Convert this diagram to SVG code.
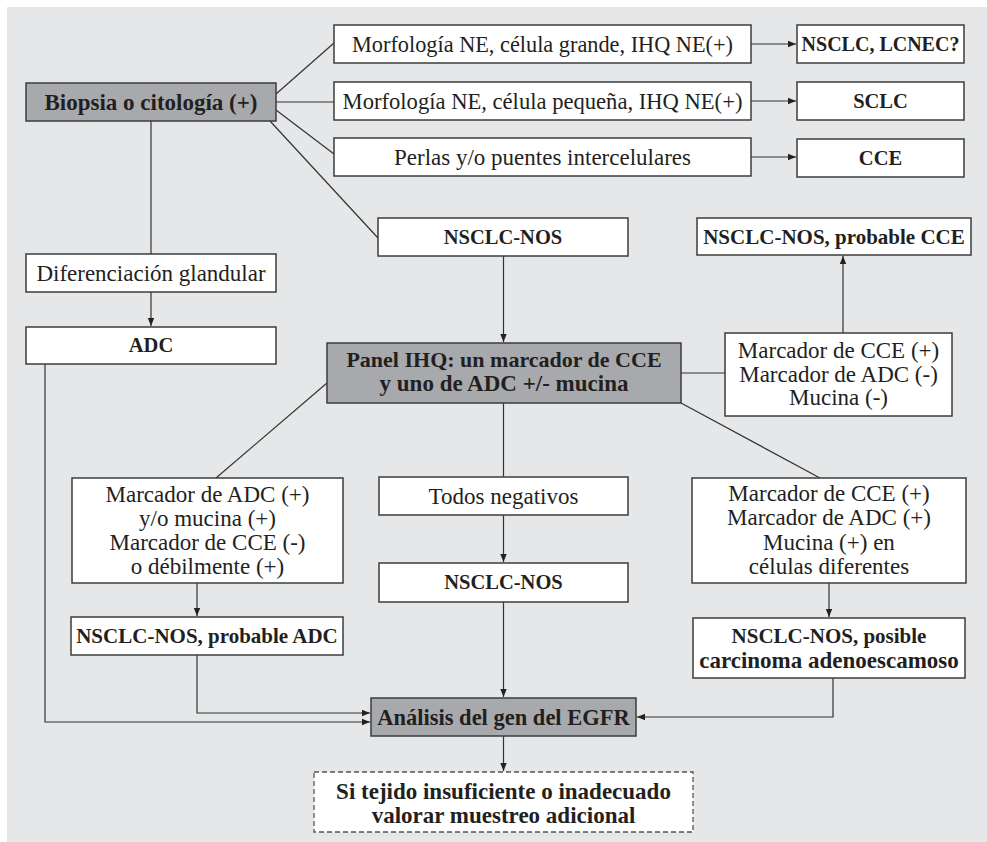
<svg xmlns="http://www.w3.org/2000/svg" width="987" height="842" viewBox="0 0 987 842">
<style>
.bg{fill:#e6e7e8}
.box{fill:#ffffff;stroke:#3c3c3c;stroke-width:1.5}
.dark{fill:#a7a9ac;stroke:#3c3c3c;stroke-width:1.5}
.dash{fill:#ffffff;stroke:#555;stroke-width:1.3;stroke-dasharray:5 3}
.t{font-family:"Liberation Serif","DejaVu Serif",serif;font-size:23px;fill:#231f20;text-anchor:middle}
.b{font-family:"Liberation Serif","DejaVu Serif",serif;font-size:23px;font-weight:bold;fill:#231f20;text-anchor:middle}
.k{font-size:20.5px}
.c{fill:none;stroke:#333;stroke-width:1.2}
</style>
<defs>
<marker id="ah" markerUnits="userSpaceOnUse" markerWidth="8" markerHeight="8" refX="8" refY="4" orient="auto">
<path d="M0,0.8 L8,4 L0,7.2 Z" fill="#222"/>
</marker>
</defs>
<rect class="bg" x="7" y="7" width="980" height="835"/>

<g id="connectors">
<line class="c" x1="751" y1="44" x2="796" y2="44" marker-end="url(#ah)"/>
<line class="c" x1="751" y1="101" x2="796" y2="101" marker-end="url(#ah)"/>
<line class="c" x1="751" y1="157" x2="796" y2="157" marker-end="url(#ah)"/>
<line class="c" x1="276" y1="94" x2="334" y2="43"/>
<line class="c" x1="276" y1="102" x2="334" y2="102"/>
<line class="c" x1="276" y1="110" x2="334" y2="154"/>
<line class="c" x1="270" y1="121" x2="378" y2="238"/>
<line class="c" x1="151" y1="121" x2="151" y2="254"/>
<line class="c" x1="151" y1="292" x2="151" y2="326" marker-end="url(#ah)"/>
<polyline class="c" points="45,364 45,722 370,722" marker-end="url(#ah)"/>
<line class="c" x1="503.5" y1="256" x2="503.5" y2="342" marker-end="url(#ah)"/>
<line class="c" x1="681" y1="373" x2="725" y2="373"/>
<line class="c" x1="843" y1="333" x2="843" y2="256" marker-end="url(#ah)"/>
<line class="c" x1="327" y1="383" x2="216" y2="478"/>
<line class="c" x1="197" y1="583" x2="197" y2="616" marker-end="url(#ah)"/>
<polyline class="c" points="197,655 197,713 370,713" marker-end="url(#ah)"/>
<line class="c" x1="503.5" y1="403" x2="503.5" y2="477"/>
<line class="c" x1="503.5" y1="515" x2="503.5" y2="562" marker-end="url(#ah)"/>
<line class="c" x1="503.5" y1="602" x2="503.5" y2="697" marker-end="url(#ah)"/>
<line class="c" x1="681" y1="403" x2="820" y2="478"/>
<line class="c" x1="829" y1="583" x2="829" y2="617" marker-end="url(#ah)"/>
<polyline class="c" points="833,678 833,717 637,717" marker-end="url(#ah)"/>
<line class="c" x1="503.5" y1="736" x2="503.5" y2="771" marker-end="url(#ah)"/>
</g>

<g id="n-biopsia"><rect class="dark" x="26" y="83" width="250" height="38"/><text class="b" x="151" y="110">Biopsia o citología (+)</text></g>
<g id="n-morf-grande"><rect class="box" x="334" y="25" width="417" height="38"/><text class="t" x="542.5" y="52" style="font-size:22.3px">Morfología NE, célula grande, IHQ NE(+)</text></g>
<g id="n-morf-peq"><rect class="box" x="334" y="82" width="417" height="38"/><text class="t" x="542.5" y="109" style="font-size:22.6px">Morfología NE, célula pequeña, IHQ NE(+)</text></g>
<g id="n-perlas"><rect class="box" x="334" y="138" width="417" height="38"/><text class="t" x="542.5" y="165">Perlas y/o puentes intercelulares</text></g>
<g id="n-lcnec"><rect class="box" x="797" y="25" width="167" height="38"/><text class="b" x="880.5" y="51" style="font-size:20px">NSCLC, LCNEC?</text></g>
<g id="n-sclc"><rect class="box" x="797" y="82" width="167" height="38"/><text class="b k" x="880.5" y="108">SCLC</text></g>
<g id="n-cce"><rect class="box" x="797" y="139" width="167" height="38"/><text class="b k" x="880.5" y="165">CCE</text></g>
<g id="n-difer"><rect class="box" x="26" y="254" width="250" height="38"/><text class="t" x="151" y="281">Diferenciación glandular</text></g>
<g id="n-adc"><rect class="box" x="26" y="327" width="250" height="37"/><text class="b k" x="151" y="352">ADC</text></g>
<g id="n-nos1"><rect class="box" x="378" y="218" width="250" height="38"/><text class="b k" x="503" y="244">NSCLC-NOS</text></g>
<g id="n-nos-cce"><rect class="box" x="697" y="218" width="274" height="37"/><text class="b" x="834" y="244" style="font-size:21px">NSCLC-NOS, probable CCE</text></g>
<g id="n-panel"><rect class="dark" x="327" y="343" width="354" height="60"/><text class="b" x="504" y="367" style="font-size:22px">Panel IHQ: un marcador de CCE</text><text class="b" x="504" y="391" style="font-size:23px">y uno de ADC +/- mucina</text></g>
<g id="n-cce-pos"><rect class="box" x="725" y="333" width="227" height="83"/><text class="t" x="838.5" y="358">Marcador de CCE (+)</text><text class="t" x="838.5" y="382">Marcador de ADC (-)</text><text class="t" x="838.5" y="405">Mucina (-)</text></g>
<g id="n-adc-pos"><rect class="box" x="72" y="478" width="271" height="105"/><text class="t" x="207.5" y="502">Marcador de ADC (+)</text><text class="t" x="207.5" y="526">y/o mucina (+)</text><text class="t" x="207.5" y="550">Marcador de CCE (-)</text><text class="t" x="207.5" y="574">o débilmente (+)</text></g>
<g id="n-todos"><rect class="box" x="379" y="477" width="249" height="38"/><text class="t" x="503.5" y="504">Todos negativos</text></g>
<g id="n-mixto"><rect class="box" x="692" y="478" width="274" height="105"/><text class="t" x="829" y="501">Marcador de CCE (+)</text><text class="t" x="829" y="525">Marcador de ADC (+)</text><text class="t" x="829" y="550">Mucina (+) en</text><text class="t" x="829" y="574">células diferentes</text></g>
<g id="n-nos-adc"><rect class="box" x="71" y="617" width="272" height="38"/><text class="b" x="207" y="643" style="font-size:21px">NSCLC-NOS, probable ADC</text></g>
<g id="n-nos2"><rect class="box" x="379" y="563" width="249" height="39"/><text class="b k" x="503.5" y="589">NSCLC-NOS</text></g>
<g id="n-adenoesc"><rect class="box" x="693" y="618" width="272" height="60"/><text class="b" x="829" y="643" style="font-size:21px">NSCLC-NOS, posible</text><text class="b" x="829" y="668">carcinoma adenoescamoso</text></g>
<g id="n-egfr"><rect class="dark" x="371" y="698" width="265" height="38"/><text class="b" x="503.5" y="725" style="font-size:22.5px">Análisis del gen del EGFR</text></g>
<g id="n-tejido"><rect class="dash" x="314" y="772" width="379" height="60"/><text class="b" x="503.5" y="799">Si tejido insuficiente o inadecuado</text><text class="b" x="503.5" y="823">valorar muestreo adicional</text></g>
</svg>
